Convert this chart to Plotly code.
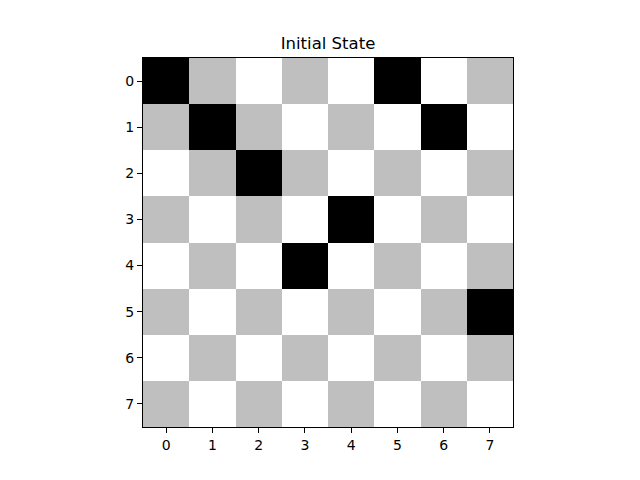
import plotly.graph_objects as go

# 0 = white square, 1 = gray square, 2 = queen (black)
board = [
    [2, 1, 0, 1, 0, 2, 0, 1],
    [1, 2, 1, 0, 1, 0, 2, 0],
    [0, 1, 2, 1, 0, 1, 0, 1],
    [1, 0, 1, 0, 2, 0, 1, 0],
    [0, 1, 0, 2, 0, 1, 0, 1],
    [1, 0, 1, 0, 1, 0, 1, 2],
    [0, 1, 0, 1, 0, 1, 0, 1],
    [1, 0, 1, 0, 1, 0, 1, 0],
]
tick_vals = list(range(8))
title = "Initial State"

colorscale = [
    [0.0, "#ffffff"], [0.3333, "#ffffff"],
    [0.3333, "#bfbfbf"], [0.6667, "#bfbfbf"],
    [0.6667, "#000000"], [1.0, "#000000"],
]

fig = go.Figure(go.Heatmap(
    z=board, x=tick_vals, y=tick_vals,
    colorscale=colorscale, zmin=-0.5, zmax=2.5,
    showscale=False, hoverinfo="skip",
))

axis_common = dict(
    tickmode="array", tickvals=tick_vals, ticktext=[str(v) for v in tick_vals],
    ticks="outside", ticklen=5, tickwidth=1, tickcolor="black",
    showline=True, linecolor="black", linewidth=1, mirror=True,
    showgrid=False, zeroline=False,
    tickfont=dict(family="DejaVu Sans", size=14, color="black"),
)

fig.update_layout(
    width=640, height=480,
    margin=dict(l=143, r=127, t=58, b=53),
    paper_bgcolor="white", plot_bgcolor="white",
    title=dict(text=title, x=0.5, xref="paper", xanchor="center",
               y=1 - 43 / 480, yanchor="middle",
               font=dict(family="DejaVu Sans", size=16.5, color="black")),
    xaxis=dict(range=[-0.5, 7.5], **axis_common),
    yaxis=dict(range=[7.5, -0.5], **axis_common),
)

fig.write_html("out.html")
